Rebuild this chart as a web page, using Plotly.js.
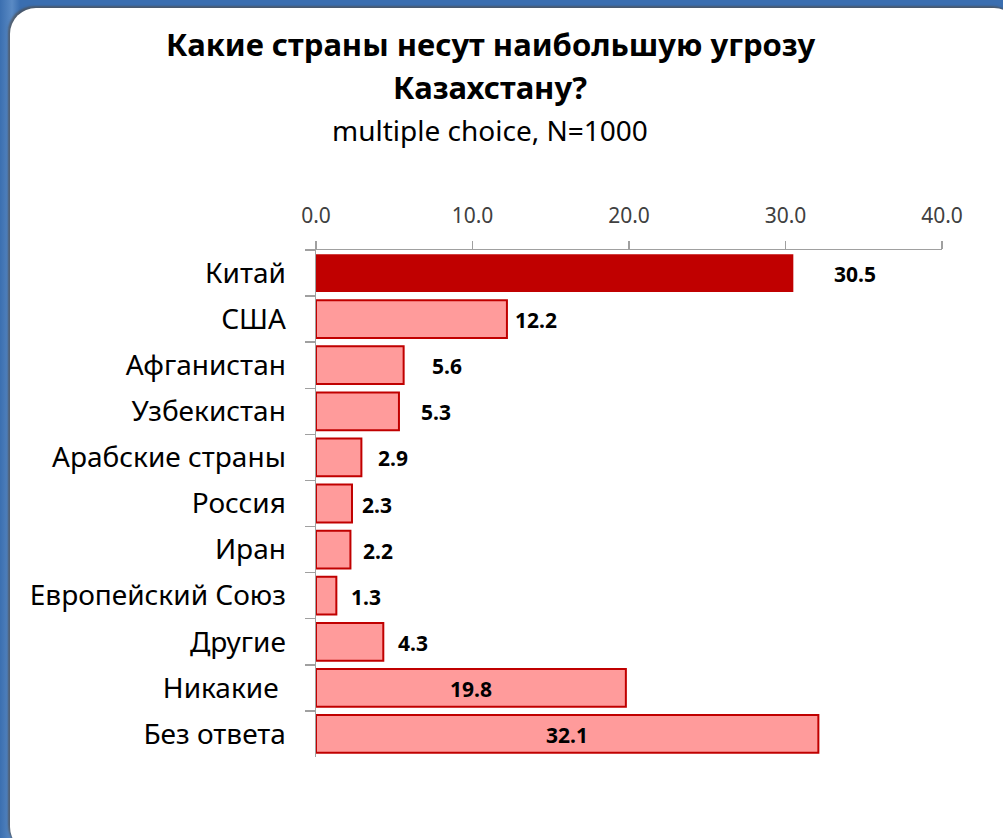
<!DOCTYPE html>
<html>
<head>
<meta charset="utf-8">
<script src="https://cdn.plot.ly/plotly-3.0.1.min.js"></script>
<style>
  html, body { margin: 0; padding: 0; width: 1003px; height: 838px; overflow: hidden;
    background: linear-gradient(90deg, #3b6fb0 0%, #5a8ac4 1.2%, #3a6eb0 2%, #3a6eb0 100%); }
  #panel { position: absolute; left: 10px; top: 8px; width: 1010px; height: 845px;
    background: #ffffff; border-radius: 26px; box-shadow: -2px -2px 2px rgba(80,80,80,0.7); }
  #chart { position: absolute; left: 0; top: 0; width: 1003px; height: 838px; }
</style>
</head>
<body>
<div id="panel"></div>
<div id="chart"></div>
<script>
const categories = ["Китай", "США", "Афганистан", "Узбекистан", "Арабские страны", "Россия",
  "Иран", "Европейский Союз", "Другие", "Никакие ", "Без ответа"];
const values = [30.5, 12.2, 5.6, 5.3, 2.9, 2.3, 2.2, 1.3, 4.3, 19.8, 32.1];
const tickValues = [0, 10, 20, 30, 40];
const tickLabels = ["0.0", "10.0", "20.0", "30.0", "40.0"];
const titleLine1 = "Какие страны несут наибольшую угрозу";
const titleLine2 = "Казахстану?";
const subtitle = "multiple choice, N=1000";

// styling: label placement (pixels right of bar end; null = centred inside bar)
const labelShift = [39, 6, 26, 20, 15, 8, 11, 13, 13, null, null];

const fills = categories.map((c, i) => i === 0 ? "#c00000" : "#ff9b9b");
const lineCols = categories.map(() => "#c00000");
const lineW = categories.map((c, i) => i === 0 ? 0 : 2);

const trace = {
  type: "bar", orientation: "h",
  y: categories, x: values,
  marker: { color: fills, line: { color: lineCols, width: lineW } },
  width: 0.82,
  hoverinfo: "skip"
};

const FONT = "Noto Sans, sans-serif";
const pw = 1003 - 316 - 61, ph = 838 - 250 - 81;
function px(x) { return (x - 316) / pw; }
function py(y) { return (838 - 81 - y) / ph; }

const labelAnns = values.map((v, i) => {
  const inside = labelShift[i] === null;
  return {
    text: "<b>" + v.toFixed(1) + "</b>", xref: "x", yref: "y",
    x: inside ? v / 2 : v, y: categories[i],
    xanchor: inside ? "center" : "left", yanchor: "middle",
    xshift: inside ? 0 : labelShift[i], yshift: -1,
    showarrow: false,
    font: { family: FONT, size: 21, color: "#000000" }
  };
});

const layout = {
  width: 1003, height: 838,
  margin: { l: 316, r: 61, t: 250, b: 81 },
  paper_bgcolor: "rgba(0,0,0,0)",
  plot_bgcolor: "rgba(0,0,0,0)",
  showlegend: false,
  xaxis: {
    side: "top", range: [0, 40], tickvals: tickValues, ticktext: tickLabels,
    showgrid: false, zeroline: false, showline: true, linecolor: "#a0a0a0", linewidth: 1.5,
    ticks: "outside", ticklen: 8, tickcolor: "#a0a0a0", tickwidth: 1.5,
    ticklabelstandoff: 9,
    tickfont: { family: FONT, size: 21, color: "#404040" },
    fixedrange: true
  },
  yaxis: {
    type: "category", autorange: "reversed",
    showgrid: false, zeroline: false, showline: true, linecolor: "#a0a0a0", linewidth: 1.5,
    ticks: "outside", ticklen: 10, tickcolor: "#a0a0a0", tickwidth: 1.5, tickson: "boundaries",
    ticklabelstandoff: 23,
    tickfont: { family: FONT, size: 28, color: "#000000" },
    fixedrange: true
  },
  annotations: [
    { text: "<b>" + titleLine1 + "</b>", xref: "paper", yref: "paper", x: px(490), y: py(44),
      xanchor: "center", yanchor: "middle", showarrow: false,
      font: { family: FONT, size: 31, color: "#000000" } },
    { text: "<b>" + titleLine2 + "</b>", xref: "paper", yref: "paper", x: px(490), y: py(87),
      xanchor: "center", yanchor: "middle", showarrow: false,
      font: { family: FONT, size: 31, color: "#000000" } },
    { text: subtitle, xref: "paper", yref: "paper", x: px(490), y: py(130),
      xanchor: "center", yanchor: "middle", showarrow: false,
      font: { family: FONT, size: 28, color: "#000000" } }
  ].concat(labelAnns)
};

Plotly.newPlot("chart", [trace], layout, { displayModeBar: false, staticPlot: true });
</script>
</body>
</html>
